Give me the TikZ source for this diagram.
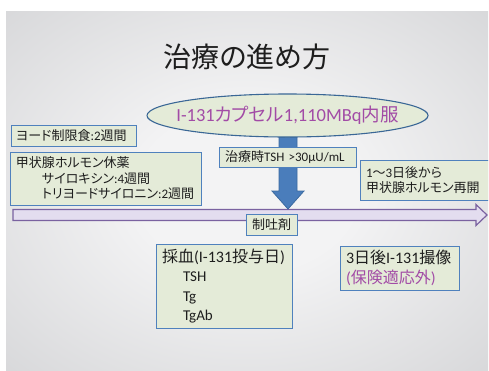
\documentclass[tikz,border=0pt]{standalone}
\usepackage{fontspec}
\setmainfont{Carlito}
\newfontfamily\jpfont[RawFeature=+palt]{Noto Sans CJK JP}
\newcommand\JP[1]{{\jpfont #1}}
\usetikzlibrary{shapes.geometric}
\definecolor{bgin}{HTML}{F3F3F4}
\definecolor{bgmid}{HTML}{A9AAAE}
\definecolor{bgmid2}{HTML}{9A9BA0}
\definecolor{bgout}{HTML}{8C8D92}
\definecolor{boxfill}{HTML}{E4EBD8}
\definecolor{boxline}{HTML}{4F81BD}
\definecolor{ellline}{HTML}{3A6796}
\definecolor{arrowblue}{HTML}{4A7DBB}
\definecolor{arrowedge}{HTML}{3B6AA0}
\definecolor{purpletext}{HTML}{A24BA6}
\definecolor{linefill}{HTML}{E3DDEF}
\definecolor{lineedge}{HTML}{7A62A0}
\definecolor{ink}{HTML}{1E1E1E}
\pgfdeclareradialshading{slidebg}{\pgfpoint{0bp}{0bp}}{color(0bp)=(bgin); color(8bp)=(bgin); color(55bp)=(bgmid); color(72bp)=(bgmid2); color(100bp)=(bgout)}
\tikzset{
  box/.style={draw=boxline, fill=boxfill, line width=0.9pt, rectangle, inner ysep=0pt, align=left, text=ink},
  capsule/.style={draw=ellline, fill=boxfill, line width=1.1pt, ellipse, inner sep=0pt, minimum width=281pt, minimum height=43pt},
  bigarrow/.style={fill=arrowblue, draw=arrowedge, line width=0.8pt},
  timeline/.style={fill=linefill, draw=lineedge, line width=1.2pt},
  f13/.style={font={\fontsize{13}{15.5}\selectfont}}
}
\begin{document}
\begin{tikzpicture}[x=1pt,y=-1pt]
\useasboundingbox (0,0) rectangle (489,370);
\fill[white] (0,0) rectangle (489,370);
\begin{scope}
  \clip (6,11) rectangle (488,370);
  \shade[shading=slidebg] (-94.5,-63.3) rectangle (588.5,444.3);
  % title
  \node[text=ink, inner sep=0pt, font={\jpfont\fontsize{28}{34}\selectfont}] (title) at (247,57) {治療の進め方};
  % timeline arrow
  \coordinate (tltip) at (487,215);
  \draw[timeline] (13,209.5) -- (476,209.5) -- (476,204.5) -- (tltip) -- (476,225.5) -- (476,220.5) -- (13,220.5) -- cycle;
  % down arrow
  \draw[bigarrow] (279,126) -- (297,126) -- (297,191) -- (304,191) -- (288,209) -- (272,191) -- (279,191) -- cycle;
  % capsule ellipse
  \node[capsule] (cap) at (287.5,115.5) {};
  \node[text=purpletext, inner sep=0pt, font={\fontsize{18.5}{22}\selectfont}] (captext) at (cap.center) {I-131\JP{カプセル}1,110MBq\JP{内服}};
  % boxes
  \node[box, f13, inner xsep=5pt, text width=115pt, minimum height=21pt] (diet) at (73.5,135.5)
    {\JP{ヨード制限食}:2\JP{週間}};
  \node[box, f13, inner xsep=6pt, text width=179pt, minimum height=53pt] (withdraw) at (105.5,178.5)
    {\JP{甲状腺ホルモン休薬}\\
     \hspace*{26pt}\JP{サイロキシン}:4\JP{週間}\\
     \hspace*{26pt}\JP{トリヨードサイロニン}:2\JP{週間}};
  \node[box, f13, inner xsep=6pt, text width=125pt, minimum height=20pt] (tsh) at (287.5,157)
    {\JP{治療時}TSH >30μU/mL};
  \node[box, font={\fontsize{13}{15}\selectfont}, inner xsep=6pt, text width=123pt, minimum height=40pt] (resume) at (427.5,180)
    {1\JP{〜}3\JP{日後から}\\\JP{甲状腺ホルモン再開}};
  \node[box, f13, inner xsep=6pt, text width=39pt, minimum height=21pt] (antiemetic) at (271.5,224.5)
    {\JP{制吐剤}};
  \node[box, font={\fontsize{15}{19.5}\selectfont}, inner xsep=6pt, text width=124pt, minimum height=84pt] (blood) at (224,286)
    {{\fontsize{16}{19.5}\selectfont \JP{採血}(I-131\JP{投与日})}\\
     \hspace*{21pt}TSH\\
     \hspace*{21pt}Tg\\
     \hspace*{21pt}TgAb};
  \node[box, font={\fontsize{16}{20}\selectfont}, inner xsep=6pt, text width=107pt, minimum height=44pt] (scan) at (399.5,268)
    {3\JP{日後}I-131\JP{撮像}\\
     \textcolor{purpletext}{(\JP{保険適応外})}};
\end{scope}
\end{tikzpicture}
\end{document}
